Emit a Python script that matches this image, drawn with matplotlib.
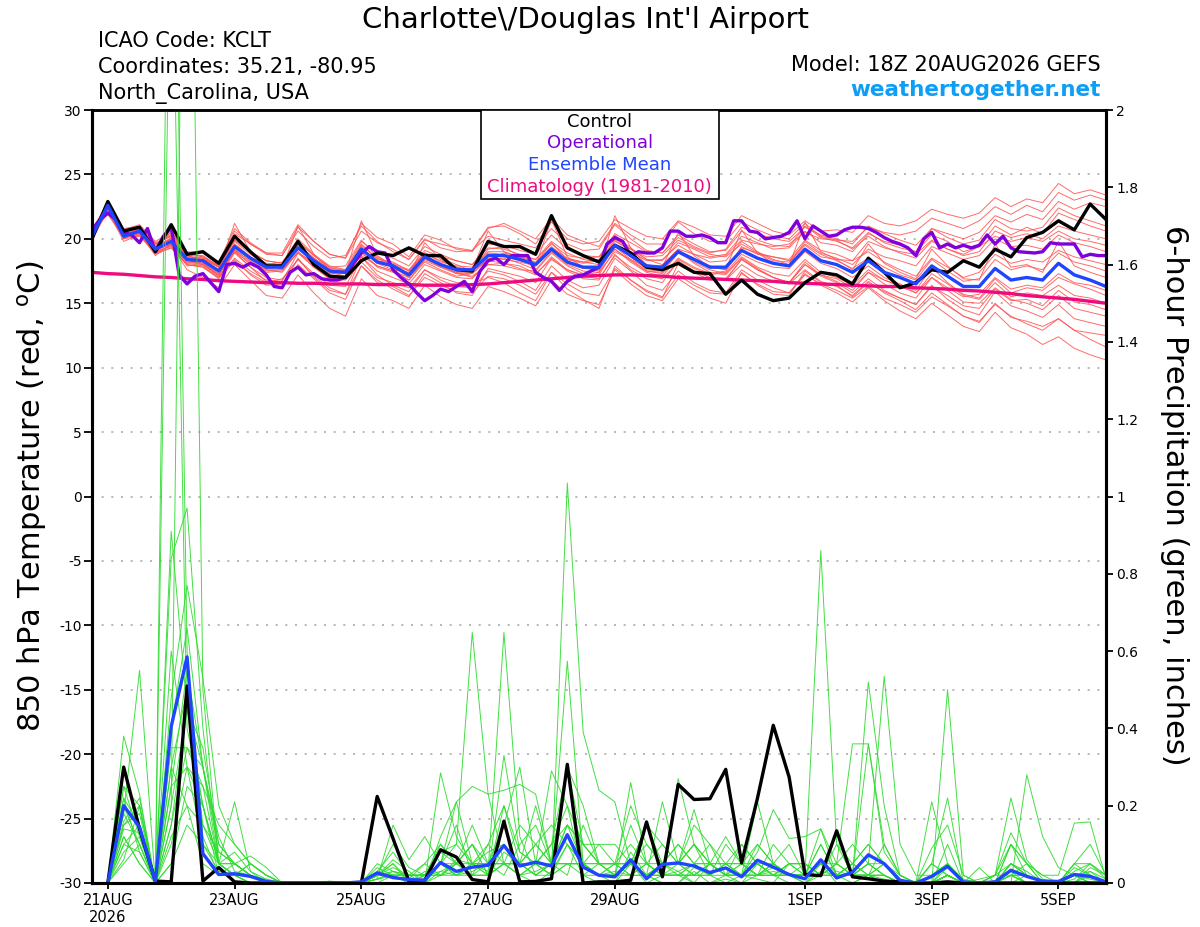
import matplotlib.pyplot as plt
import numpy as np
import pandas as pd
from matplotlib.patches import Rectangle

plt.rcParams['axes.unicode_minus'] = False

# 6-hourly steps, 18Z 20AUG2026 .. 18Z 05SEP2026 (operational run is 3-hourly)
times = pd.date_range('2026-08-20 18:00', periods=65, freq='6h')
times_3h = pd.date_range('2026-08-20 18:00', periods=129, freq='3h')

# 850 hPa temperature (C)
control_temp = [20.0,
                22.9, 20.6, 20.9, 19.0, 21.1, 18.8, 19.0, 18.1, 20.2, 19.0, 17.9, 17.9,
                19.8, 18.0, 17.1, 17.0, 18.3, 18.9, 18.7, 19.3, 18.7, 18.7, 17.6, 17.5,
                19.8, 19.4, 19.4, 18.8, 21.8, 19.3, 18.7, 18.2, 19.5, 18.9, 17.8, 17.6,
                18.1, 17.4, 17.3, 15.7, 16.8, 15.7, 15.2, 15.4, 16.6, 17.4, 17.2, 16.5,
                18.5, 17.4, 16.2, 16.6, 17.6, 17.4, 18.3, 17.8, 19.2, 18.6, 20.1, 20.5,
                21.4, 20.7, 22.7, 21.5]
mean_temp = [20.2,
             22.6, 20.2, 20.6, 19.2, 19.8, 18.4, 18.3, 17.5, 19.4, 18.5, 17.8, 17.8,
             19.3, 18.3, 17.5, 17.4, 19.2, 18.2, 17.9, 17.2, 18.6, 18.0, 17.6, 17.6,
             18.7, 18.7, 18.4, 18.0, 19.2, 18.2, 17.8, 17.8, 19.5, 18.7, 17.9, 17.8,
             19.0, 18.4, 17.8, 17.8, 19.1, 18.5, 18.1, 17.9, 19.2, 18.3, 18.0, 17.4,
             18.3, 17.4, 17.0, 16.5, 17.9, 17.1, 16.3, 16.3, 17.7, 16.8, 17.0, 16.8,
             18.1, 17.2, 16.8, 16.3]
clim_temp = [17.4,
             17.3, 17.25, 17.15, 17.05, 17.0, 16.9, 16.85, 16.75, 16.7, 16.65, 16.6, 16.6,
             16.55, 16.55, 16.5, 16.5, 16.5, 16.45, 16.45, 16.45, 16.4, 16.4, 16.4, 16.45,
             16.5, 16.6, 16.7, 16.8, 16.9, 17.0, 17.1, 17.15, 17.2, 17.2, 17.15, 17.1,
             17.0, 16.95, 16.9, 16.85, 16.8, 16.75, 16.7, 16.6, 16.55, 16.5, 16.45, 16.4,
             16.35, 16.3, 16.3, 16.2, 16.15, 16.1, 16.0, 15.95, 15.85, 15.75, 15.6, 15.5,
             15.4, 15.3, 15.15, 15.0]
operational_temp = [20.7, 21.5, 22.0, 21.5, 20.5, 20.3, 19.7, 20.8, 19.0, 20.2, 20.9,
                    17.2, 16.5, 17.1, 17.3, 16.6, 15.9, 18.0, 18.1, 17.8, 18.1, 17.8,
                    17.2, 16.3, 16.2, 17.4, 17.8, 17.2, 17.3, 16.9, 16.8, 16.8, 17.0,
                    18.1, 18.9, 19.4, 19.0, 18.9, 17.6, 17.0, 16.5, 15.8, 15.2, 15.6,
                    16.1, 15.9, 16.3, 16.7, 15.9, 17.5, 18.3, 18.5, 18.0, 18.7, 18.7,
                    18.7, 17.4, 17.0, 16.7, 16.0, 16.7, 17.1, 17.2, 17.5, 17.8, 19.6,
                    20.1, 19.8, 18.7, 19.0, 18.9, 18.9, 19.3, 20.6, 20.6, 20.2, 20.2,
                    20.3, 20.1, 19.7, 19.7, 21.4, 21.4, 20.6, 20.5, 20.0, 20.1, 20.2,
                    20.5, 21.4, 20.0, 21.0, 20.6, 20.2, 20.3, 20.7, 20.9, 20.9, 20.8,
                    20.5, 20.1, 19.8, 19.6, 19.3, 18.7, 20.0, 20.5, 19.3, 19.6, 19.3,
                    19.5, 19.3, 19.5, 20.3, 19.6, 20.2, 19.3, 19.0, 18.95, 18.9, 19.0,
                    19.7, 19.6, 19.6, 19.6, 18.6, 18.8, 18.7, 18.7]

temp_members = [
    [20.4, 22.3, 20.5, 20.9, 19.5, 20.4, 18.9, 18.6, 17.9, 19.9, 19.0, 18.3, 18.1, 20.0, 18.8, 17.9, 17.6,
     19.8, 18.9, 18.5, 17.9, 19.4, 18.8, 18.3, 18.0, 19.6, 19.5, 19.1, 18.8, 20.3, 19.2, 18.7, 18.6,
     20.4, 19.7, 19.0, 18.9, 20.3, 19.6, 19.0, 19.1, 20.6, 19.9, 19.5, 19.4, 21.0, 20.1, 19.8, 19.3,
     20.5, 19.7, 19.3, 19.0, 20.8, 20.1, 19.6, 19.9, 21.5, 20.8, 20.6, 20.9, 22.4, 21.8, 21.4, 21.0],
    [20.0, 22.5, 20.0, 20.2, 18.9, 19.3, 18.0, 17.8, 17.0, 18.4, 17.2, 16.4, 16.5, 18.0, 16.9, 15.8, 15.3,
     17.9, 16.6, 16.3, 15.6, 17.0, 16.4, 15.9, 15.8, 17.1, 16.9, 16.4, 15.7, 17.4, 16.5, 15.8, 15.6,
     17.7, 16.8, 16.0, 15.5, 17.2, 16.4, 15.8, 15.7, 17.3, 16.5, 15.9, 15.8, 17.2, 16.5, 16.0, 15.4,
     16.3, 15.4, 14.9, 14.3, 15.5, 14.8, 14.0, 13.6, 14.9, 14.0, 13.4, 12.9, 13.8, 12.9, 12.2, 11.6],
    [20.5, 22.0, 20.8, 21.0, 19.7, 20.2, 18.7, 18.4, 17.8, 19.6, 18.6, 18.0, 18.2, 19.8, 18.7, 17.8, 17.9,
     19.9, 18.6, 18.0, 17.5, 18.9, 18.5, 18.0, 17.5, 19.2, 19.4, 18.6, 18.1, 19.7, 18.4, 18.2, 18.4,
     20.3, 19.3, 18.4, 18.0, 19.2, 18.1, 17.4, 17.2, 18.5, 17.7, 17.0, 16.6, 18.0, 17.2, 16.9, 16.2,
     17.4, 16.8, 16.4, 16.0, 17.8, 16.6, 15.7, 15.4, 16.9, 15.8, 16.2, 16.0, 17.0, 16.5, 16.1, 15.6],
    [20.1, 22.8, 20.3, 20.4, 18.7, 19.6, 17.9, 18.0, 17.2, 19.1, 18.0, 17.4, 17.5, 19.0, 17.8, 16.9, 17.0,
     19.0, 17.8, 17.4, 16.8, 18.2, 17.6, 17.1, 17.3, 18.4, 18.9, 18.6, 18.4, 19.8, 18.9, 18.4, 18.2,
     19.8, 19.2, 18.4, 18.3, 19.7, 19.2, 18.6, 18.8, 20.2, 19.7, 19.2, 19.3, 20.6, 19.7, 19.5, 19.0,
     20.4, 19.8, 19.5, 19.0, 20.3, 19.8, 19.0, 19.4, 21.0, 20.3, 20.9, 20.4, 22.0, 21.5, 21.0, 20.6],
    [20.3, 22.1, 20.6, 20.8, 19.4, 20.0, 18.6, 18.5, 17.8, 20.4, 19.6, 18.9, 18.7, 20.6, 19.4, 18.5, 18.7,
     21.0, 19.8, 19.0, 18.4, 20.0, 19.3, 19.0, 19.1, 20.9, 21.0, 20.4, 19.6, 21.3, 20.0, 19.6, 19.8,
     21.5, 20.8, 20.2, 20.0, 21.4, 20.9, 20.3, 20.2, 21.8, 21.2, 20.6, 20.3, 21.4, 20.6, 20.7, 20.5,
     21.8, 21.2, 21.0, 21.4, 22.3, 21.9, 21.6, 22.0, 23.2, 22.5, 23.1, 22.8, 24.3, 23.5, 23.8, 23.4],
    [20.6, 21.9, 20.1, 20.3, 19.0, 19.5, 17.6, 17.0, 16.2, 18.0, 16.8, 15.6, 15.4, 17.2, 15.8, 14.6, 14.0,
     16.9, 15.6, 15.2, 14.6, 16.4, 15.5, 14.9, 14.6, 16.3, 15.9, 15.4, 14.8, 16.8, 15.7, 15.2, 14.9,
     17.6, 16.5, 15.6, 15.2, 16.9, 16.1, 15.4, 15.0, 17.4, 16.4, 15.7, 15.6, 17.5, 16.6, 16.4, 15.5,
     16.6, 15.9, 15.4, 14.9, 16.3, 15.6, 14.8, 14.6, 16.1, 15.2, 15.3, 14.8, 16.0, 15.1, 14.9, 14.5],
    [20.2, 22.4, 20.4, 20.7, 19.3, 19.9, 18.5, 18.4, 17.6, 19.6, 18.6, 17.9, 17.7, 19.5, 18.5, 17.7, 17.6,
     19.4, 18.1, 17.6, 17.4, 18.9, 18.3, 17.8, 17.5, 18.4, 18.5, 18.1, 17.6, 19.0, 18.0, 17.5, 17.4,
     19.6, 18.6, 17.6, 17.5, 19.1, 18.5, 17.9, 17.6, 19.4, 18.8, 18.6, 18.3, 19.6, 18.8, 18.3, 17.7,
     18.5, 17.8, 17.2, 16.8, 18.4, 17.5, 16.7, 16.9, 18.4, 17.6, 17.9, 17.6, 18.9, 18.2, 17.9, 17.5],
    [20.4, 22.6, 20.1, 20.5, 19.1, 19.7, 18.3, 18.1, 17.2, 19.0, 17.8, 16.7, 16.2, 18.5, 17.0, 16.0, 15.7,
     18.6, 17.2, 16.4, 15.9, 17.6, 16.8, 16.3, 16.2, 17.5, 17.2, 16.7, 16.0, 17.9, 16.8, 16.2, 16.4,
     18.5, 17.5, 16.4, 16.0, 17.5, 16.6, 16.0, 15.8, 17.6, 16.8, 16.2, 15.8, 17.3, 16.4, 15.8, 15.1,
     16.2, 15.2, 14.4, 13.8, 15.0, 14.1, 13.2, 12.8, 14.3, 13.1, 12.6, 11.8, 12.4, 11.5, 11.0, 10.6],
    [20.1, 22.7, 20.2, 20.6, 19.3, 20.1, 18.6, 18.3, 17.6, 19.5, 18.4, 17.7, 17.9, 19.6, 18.5, 17.6, 17.5,
     19.6, 18.4, 18.2, 17.5, 18.9, 18.2, 17.9, 17.8, 19.0, 19.0, 18.6, 18.2, 19.4, 18.4, 18.1, 18.3,
     19.9, 19.0, 18.3, 18.4, 19.5, 18.8, 18.2, 18.3, 19.8, 19.0, 18.4, 18.0, 19.8, 18.9, 18.5, 18.0,
     19.2, 18.6, 18.3, 17.9, 19.4, 18.9, 18.4, 18.7, 20.0, 19.4, 19.5, 19.2, 20.3, 19.7, 19.4, 19.0],
    [19.9, 22.2, 19.8, 20.3, 19.0, 19.4, 18.2, 18.1, 17.3, 19.2, 18.2, 17.6, 17.4, 19.0, 18.0, 17.2, 17.1,
     18.9, 17.9, 17.5, 17.0, 18.3, 17.8, 17.3, 17.3, 18.5, 18.4, 18.2, 17.9, 19.1, 18.1, 17.7, 17.6,
     19.4, 18.4, 17.5, 17.3, 18.4, 17.7, 17.2, 17.4, 18.8, 18.2, 17.8, 17.7, 19.0, 18.1, 17.7, 17.0,
     17.9, 17.0, 16.5, 15.8, 17.0, 16.2, 15.5, 15.7, 17.0, 16.1, 16.4, 16.2, 17.3, 16.6, 16.4, 16.0],
    [20.6, 22.9, 20.7, 21.1, 19.8, 20.5, 19.0, 18.9, 18.2, 20.8, 19.7, 18.9, 18.9, 21.1, 19.8, 18.8, 18.5,
     20.6, 19.7, 19.2, 18.4, 19.9, 19.6, 19.3, 19.1, 20.2, 19.9, 19.6, 19.3, 20.8, 19.6, 19.1, 19.2,
     21.1, 20.0, 19.1, 18.9, 20.1, 19.4, 18.9, 19.2, 20.9, 20.4, 20.0, 19.8, 20.9, 20.3, 20.0, 19.6,
     21.0, 20.4, 19.9, 19.5, 20.8, 20.4, 20.0, 20.5, 21.8, 21.3, 21.9, 21.5, 22.9, 22.3, 22.8, 22.5],
    [20.3, 22.4, 20.0, 20.5, 18.9, 19.5, 18.1, 17.9, 17.0, 18.9, 17.8, 17.0, 16.8, 18.4, 17.3, 16.4, 16.3,
     18.6, 17.5, 17.0, 16.5, 18.0, 17.5, 17.0, 16.9, 18.3, 18.1, 17.7, 17.2, 18.6, 17.6, 17.1, 16.9,
     18.7, 17.8, 17.1, 16.9, 18.2, 17.4, 16.8, 16.9, 18.4, 17.6, 17.0, 16.6, 18.0, 17.1, 16.6, 15.8,
     16.9, 16.0, 15.4, 14.9, 16.4, 15.3, 14.5, 14.1, 15.9, 14.8, 14.4, 13.9, 14.9, 13.8, 13.5, 13.2],
    [20.0, 22.5, 20.3, 20.8, 19.4, 20.0, 18.8, 18.7, 17.9, 19.9, 19.0, 18.3, 18.1, 19.8, 18.7, 17.8, 17.5,
     19.3, 18.2, 17.8, 17.0, 18.5, 17.8, 17.4, 17.4, 18.9, 18.8, 18.4, 18.0, 19.3, 18.5, 18.2, 18.0,
     19.2, 18.2, 17.4, 17.1, 18.5, 17.8, 17.3, 17.5, 19.3, 18.9, 18.6, 18.4, 19.9, 19.1, 18.8, 18.3,
     19.0, 18.2, 17.6, 17.1, 18.5, 17.8, 17.0, 17.4, 18.8, 18.1, 18.4, 18.2, 19.1, 18.6, 18.3, 18.0],
    [20.4, 22.0, 20.2, 20.4, 19.1, 19.6, 18.2, 18.0, 17.2, 19.0, 18.1, 17.5, 17.6, 19.3, 18.1, 17.3, 17.3,
     19.5, 18.5, 18.0, 17.3, 18.8, 18.0, 17.3, 17.1, 18.0, 17.9, 17.6, 17.5, 18.9, 17.9, 17.3, 17.2,
     19.2, 18.3, 17.5, 17.4, 18.9, 18.2, 17.6, 17.3, 18.6, 17.8, 17.3, 17.1, 18.4, 17.4, 17.0, 16.4,
     17.6, 16.8, 16.3, 15.8, 17.3, 16.5, 15.6, 15.3, 16.6, 15.5, 15.8, 15.6, 16.4, 15.6, 15.4, 15.0],
    [20.7, 22.6, 20.6, 20.9, 19.6, 20.3, 18.9, 18.6, 17.9, 20.6, 19.6, 18.8, 18.7, 20.9, 19.8, 18.8, 18.5,
     21.2, 20.1, 19.6, 18.6, 20.3, 19.9, 19.2, 19.0, 20.8, 21.2, 20.6, 20.0, 21.6, 20.3, 19.8, 19.4,
     21.2, 20.3, 19.6, 19.6, 21.3, 20.4, 19.8, 19.8, 21.3, 20.7, 20.2, 20.0, 21.2, 20.2, 19.9, 19.2,
     20.2, 19.4, 18.9, 18.5, 19.8, 19.2, 18.7, 19.0, 20.6, 20.1, 20.4, 20.0, 21.0, 20.6, 20.3, 20.0],
    [20.2, 22.3, 20.4, 20.5, 19.0, 19.8, 18.4, 18.0, 17.1, 18.5, 17.5, 16.8, 16.7, 18.9, 17.8, 16.9, 16.8,
     18.2, 17.0, 16.6, 16.2, 17.6, 17.0, 16.6, 16.5, 17.0, 16.6, 15.8, 15.2, 17.4, 16.1, 15.3, 14.6,
     17.9, 16.8, 15.9, 15.4, 18.1, 17.5, 17.0, 16.8, 18.0, 17.2, 16.7, 16.5, 17.6, 16.7, 16.3, 15.6,
     16.7, 15.8, 15.2, 14.5, 15.8, 14.9, 14.0, 13.5, 15.0, 13.9, 13.6, 13.2, 13.8, 12.9, 12.7, 12.5],
    [20.5, 22.2, 20.3, 20.6, 19.2, 20.6, 18.7, 18.3, 17.6, 21.2, 19.0, 18.0, 17.7, 21.0, 18.8, 17.6, 17.3,
     21.4, 18.7, 17.9, 17.1, 19.7, 18.4, 17.8, 17.6, 20.6, 19.0, 18.5, 17.9, 21.5, 18.6, 17.8, 17.5,
     21.8, 19.3, 18.0, 17.8, 20.5, 18.7, 17.8, 17.6, 20.7, 18.9, 18.1, 17.9, 21.3, 19.0, 18.4, 17.6,
     19.6, 18.1, 17.4, 16.9, 19.2, 17.9, 16.9, 16.8, 19.6, 17.8, 18.0, 17.4, 19.8, 17.9, 17.4, 17.0],
    [20.1, 22.7, 20.5, 20.7, 19.3, 19.5, 18.3, 18.2, 17.5, 19.1, 18.3, 17.6, 17.6, 18.9, 18.2, 17.4, 17.1,
     18.7, 17.9, 17.5, 16.8, 18.4, 17.9, 17.4, 17.0, 18.0, 18.1, 17.9, 17.3, 18.4, 17.6, 17.2, 17.4,
     19.0, 18.4, 17.8, 17.9, 19.2, 18.8, 18.5, 18.7, 19.9, 19.6, 19.4, 19.6, 20.5, 20.0, 19.9, 19.8,
     20.9, 20.5, 20.3, 20.6, 21.6, 21.2, 20.8, 21.4, 22.5, 21.9, 22.6, 22.1, 23.6, 23.0, 23.4, 23.0],
    [20.3, 22.1, 20.1, 20.4, 18.8, 19.3, 18.0, 17.8, 16.9, 18.3, 17.3, 16.6, 16.9, 18.4, 17.1, 16.2, 15.7,
     17.9, 16.8, 16.1, 15.5, 17.3, 16.6, 15.8, 15.6, 17.7, 17.4, 17.1, 16.6, 18.5, 17.5, 16.9, 16.8,
     18.8, 17.6, 16.9, 16.6, 18.3, 17.5, 17.0, 16.8, 18.4, 17.6, 17.0, 16.6, 18.2, 17.2, 16.7, 16.0,
     17.4, 16.5, 15.8, 15.4, 17.0, 16.0, 15.1, 15.0, 16.2, 15.3, 15.0, 14.5, 15.6, 14.6, 14.3, 14.0],
    [20.6, 22.8, 20.6, 21.0, 19.6, 20.2, 18.8, 18.5, 17.8, 19.8, 18.8, 18.1, 18.0, 19.4, 18.4, 17.5, 17.4,
     19.2, 18.3, 18.1, 17.6, 19.1, 18.6, 18.3, 18.0, 19.3, 19.2, 18.8, 18.4, 19.6, 18.7, 18.5, 18.6,
     20.0, 19.2, 18.6, 18.7, 19.9, 19.3, 18.8, 18.6, 19.6, 18.9, 18.3, 18.2, 19.5, 18.6, 18.4, 18.3,
     19.8, 19.3, 19.0, 18.8, 19.9, 19.2, 18.8, 19.4, 20.2, 19.8, 20.1, 19.8, 20.6, 20.0, 19.8, 19.5],
]

# 6-hour precipitation (inches), from 00Z 21AUG
control_precip = [0, 0.30, 0.14, 0.005, 0.003, 0.51, 0.005, 0.04, 0.003, 0, 0, 0, 0, 0, 0, 0,
                  0, 0.224, 0.115, 0.005, 0.007, 0.086, 0.067, 0.009, 0.003, 0.16, 0.003, 0.004,
                  0.011, 0.307, 0, 0.003, 0.003, 0.007, 0.158, 0.016, 0.255, 0.216, 0.218, 0.294,
                  0.052, 0.219, 0.408, 0.274, 0.022, 0.019, 0.135, 0.016, 0.011, 0.005, 0.003, 0,
                  0, 0.003, 0, 0, 0, 0, 0, 0, 0, 0, 0, 0]
mean_precip = [0, 0.2, 0.145, 0.003, 0.405, 0.585, 0.076, 0.022, 0.024, 0.017, 0.004, 0,
               0, 0, 0, 0, 0.003, 0.026, 0.014, 0.009, 0.007, 0.053, 0.03, 0.041,
               0.046, 0.097, 0.044, 0.054, 0.044, 0.125, 0.041, 0.02, 0.016, 0.06, 0.011, 0.048,
               0.052, 0.044, 0.027, 0.039, 0.016, 0.059, 0.041, 0.022, 0.011, 0.06, 0.013, 0.028,
               0.073, 0.05, 0.007, 0, 0.017, 0.043, 0.003, 0, 0.003, 0.033, 0.017, 0.005,
               0.004, 0.022, 0.017, 0.003]

precip_members = [
    [0, 0.22, 0.15, 0, 3.2, 0.6, 0.12, 0.02, 0.05, 0.02, 0, 0, 0, 0, 0, 0,
     0, 0.03, 0.02, 0, 0.02, 0.08, 0.1, 0.648, 0.23, 0.05, 0.02, 0, 0.03, 0.1, 0.02, 0,
     0, 0.05, 0, 0.02, 0.03, 0, 0, 0.01, 0, 0.05, 0.02, 0, 0, 0.05, 0, 0,
     0.02, 0, 0, 0, 0, 0.02, 0, 0, 0, 0.03, 0, 0, 0, 0.02, 0.01, 0],
    [0, 0.1, 0.08, 0, 2.6, 0.4, 0.2, 0.05, 0.02, 0, 0, 0, 0, 0, 0, 0,
     0, 0.02, 0.05, 0.01, 0, 0.03, 0.02, 0.05, 0.03, 0.648, 0.12, 0.02, 0.05, 0.3, 0.05, 0.02,
     0, 0.08, 0.02, 0, 0, 0.04, 0.02, 0, 0.02, 0.01, 0, 0.05, 0.02, 0.86, 0.1, 0.02,
     0.02, 0, 0, 0, 0, 0.04, 0, 0, 0, 0, 0.02, 0, 0, 0, 0.03, 0],
    [0, 0.15, 0.2, 0, 0.2, 3.5, 0.5, 0.05, 0.08, 0.03, 0, 0, 0, 0, 0, 0,
     0, 0.05, 0.03, 0.02, 0, 0.12, 0.21, 0.05, 0.02, 0.08, 0.05, 0.05, 0.02, 1.035, 0.39, 0.24,
     0.21, 0.05, 0.02, 0, 0, 0.03, 0, 0.02, 0.05, 0.02, 0.04, 0.02, 0, 0.03, 0.02, 0,
     0.02, 0.01, 0, 0, 0, 0, 0, 0, 0, 0.05, 0.03, 0, 0, 0, 0, 0],
    [0, 0.18, 0.55, 0, 0.91, 0.45, 0.3, 0.12, 0.03, 0.02, 0.01, 0, 0, 0, 0, 0,
     0, 0.01, 0.02, 0, 0.03, 0.02, 0.05, 0.1, 0.02, 0.33, 0.08, 0.05, 0.29, 0.2, 0.02, 0.05,
     0.02, 0.26, 0.05, 0.02, 0.02, 0, 0.05, 0.02, 0.02, 0.08, 0.19, 0.115, 0.12, 0.14, 0.05, 0.36,
     0.36, 0.08, 0.02, 0, 0.02, 0.05, 0, 0, 0.02, 0.22, 0.06, 0.01, 0, 0.04, 0.02, 0],
    [0, 0.38, 0.23, 0, 0.84, 0.97, 0.4, 0.05, 0.05, 0.07, 0.04, 0, 0, 0, 0, 0,
     0, 0.02, 0.06, 0.03, 0, 0.285, 0.12, 0.05, 0.02, 0.05, 0.02, 0.03, 0.05, 0.574, 0.05, 0.02,
     0.03, 0.02, 0.05, 0.02, 0.27, 0.1, 0.05, 0.02, 0, 0.02, 0.03, 0.02, 0.02, 0.05, 0.03, 0.02,
     0.52, 0.2, 0.02, 0, 0, 0.5, 0.02, 0, 0, 0.05, 0.02, 0, 0, 0.02, 0.03, 0.01],
    [0, 0.25, 0.12, 0, 0.48, 0.77, 0.53, 0.2, 0.1, 0.05, 0.02, 0, 0, 0, 0, 0,
     0, 0.01, 0.15, 0.06, 0.12, 0.05, 0.21, 0.25, 0.23, 0.24, 0.255, 0.23, 0.05, 0.12, 0.05, 0.02,
     0.05, 0.02, 0.02, 0.21, 0.05, 0.15, 0.1, 0.05, 0.02, 0.21, 0.05, 0.02, 0, 0.02, 0.05, 0.02,
     0.02, 0.05, 0, 0, 0.09, 0.15, 0.02, 0, 0, 0, 0.28, 0.12, 0.04, 0.02, 0, 0],
    [0, 0.12, 0.05, 0, 0.4, 0.66, 0.3, 0.05, 0.02, 0.02, 0, 0, 0, 0, 0, 0,
     0, 0.02, 0.02, 0.02, 0.05, 0.02, 0.03, 0.02, 0.1, 0.2, 0.08, 0.05, 0.1, 0.3, 0.2, 0.05,
     0.05, 0.1, 0.05, 0.05, 0.05, 0.19, 0.05, 0.02, 0.1, 0.05, 0.02, 0.05, 0.02, 0.05, 0.02, 0.02,
     0.05, 0.535, 0.1, 0.02, 0.02, 0.05, 0.01, 0, 0.02, 0.1, 0.05, 0.02, 0.02, 0.155, 0.158, 0.01],
    [0, 0.08, 0.12, 0, 0.3, 0.5, 0.15, 0.05, 0.21, 0.03, 0.01, 0, 0, 0, 0, 0,
     0, 0.02, 0.1, 0.04, 0.02, 0.05, 0.02, 0.03, 0.05, 0.1, 0.05, 0.2, 0.05, 0.15, 0.05, 0.05,
     0.02, 0.05, 0.1, 0.05, 0.03, 0.05, 0.02, 0.1, 0.05, 0.02, 0.05, 0.02, 0.02, 0.05, 0.02, 0.02,
     0.36, 0.1, 0.02, 0, 0.21, 0.05, 0, 0.01, 0.02, 0.13, 0.05, 0, 0, 0.01, 0.05, 0.02],
    [0, 0.05, 0.1, 0, 0.2, 0.45, 0.2, 0.02, 0.02, 0, 0, 0, 0, 0, 0.005, 0,
     0, 0, 0.02, 0, 0.02, 0.08, 0.05, 0.1, 0.05, 0.15, 0.3, 0.05, 0.1, 0.2, 0.1, 0.05,
     0.05, 0.05, 0.02, 0.05, 0.05, 0.1, 0.05, 0.02, 0.02, 0.1, 0.05, 0.02, 0.02, 0.14, 0.02, 0.05,
     0.1, 0.05, 0.02, 0, 0, 0.02, 0, 0.04, 0, 0.05, 0.02, 0, 0, 0.05, 0.02, 0],
    [0, 0.2, 0.1, 0, 0.15, 0.35, 0.3, 0.1, 0.05, 0.02, 0, 0, 0, 0, 0, 0,
     0, 0.01, 0.03, 0.01, 0.05, 0.1, 0.05, 0.15, 0.05, 0.02, 0.1, 0.15, 0.05, 0.02, 0.15, 0.05,
     0.05, 0.2, 0.1, 0.05, 0.1, 0.05, 0.05, 0.12, 0.05, 0.05, 0.02, 0.02, 0.02, 0.1, 0.02, 0.02,
     0.05, 0.02, 0, 0, 0.05, 0.02, 0, 0, 0, 0.02, 0.05, 0.02, 0, 0, 0, 0],
    [0, 0.15, 0.18, 0, 0.1, 0.3, 0.1, 0.03, 0.02, 0.05, 0.02, 0, 0, 0, 0, 0,
     0, 0.04, 0.02, 0.02, 0.02, 0.02, 0.06, 0.05, 0.08, 0.1, 0.05, 0.1, 0.15, 0.1, 0.05, 0.02,
     0.02, 0.15, 0.05, 0.02, 0.05, 0.1, 0.05, 0.05, 0.02, 0.02, 0.1, 0.05, 0.05, 0.02, 0.05, 0.1,
     0.05, 0.02, 0, 0, 0.05, 0.22, 0, 0, 0, 0.1, 0.05, 0, 0, 0.05, 0.05, 0.02],
    [0, 0.1, 0.15, 0, 0.05, 0.25, 0.2, 0.05, 0.02, 0.02, 0, 0, 0, 0, 0, 0,
     0, 0.03, 0.08, 0.02, 0.02, 0.1, 0.05, 0.05, 0.1, 0.05, 0.15, 0.1, 0.05, 0.15, 0.1, 0.1,
     0.1, 0.05, 0.15, 0.1, 0.05, 0.1, 0.02, 0.05, 0.05, 0.02, 0.05, 0.02, 0.05, 0.02, 0.1, 0.05,
     0.02, 0.1, 0.02, 0, 0.02, 0.05, 0, 0, 0, 0.02, 0.02, 0, 0, 0.03, 0.05, 0.01],
    [0, 0.22, 0.08, 0, 0.3, 0.2, 0.15, 0.08, 0.05, 0.02, 0, 0, 0, 0, 0, 0,
     0, 0.02, 0.05, 0, 0, 0.05, 0.1, 0.05, 0.05, 0.05, 0.05, 0.1, 0.05, 0.05, 0.05, 0.1,
     0.05, 0.05, 0.15, 0.05, 0.1, 0.05, 0.05, 0.05, 0.1, 0.05, 0.05, 0.02, 0.02, 0.1, 0.02, 0.02,
     0.05, 0.05, 0, 0, 0, 0.1, 0, 0, 0, 0.02, 0, 0, 0, 0, 0.04, 0.02],
    [0, 0.12, 0.05, 0, 0.25, 0.3, 0.25, 0.05, 0.02, 0.05, 0.02, 0, 0, 0, 0, 0,
     0, 0.02, 0.02, 0.02, 0.02, 0.05, 0.02, 0.02, 0.05, 0.1, 0.02, 0.05, 0.02, 0.05, 0.05, 0.02,
     0.02, 0.05, 0.02, 0.05, 0.02, 0.05, 0.1, 0.02, 0.05, 0.1, 0.05, 0.02, 0.02, 0.05, 0.02, 0.02,
     0.02, 0.05, 0, 0, 0.05, 0.02, 0, 0, 0.02, 0.05, 0.02, 0, 0, 0.02, 0.02, 0],
    [0, 0.18, 0.1, 0, 0.15, 0.45, 0.35, 0.1, 0.05, 0.02, 0, 0, 0, 0, 0, 0,
     0, 0.01, 0.02, 0.02, 0.02, 0.03, 0.05, 0.1, 0.02, 0.2, 0.05, 0.02, 0.05, 0.3, 0.1, 0.05,
     0.05, 0.05, 0.05, 0.1, 0.05, 0.02, 0.05, 0.02, 0.02, 0.05, 0.02, 0.05, 0.05, 0.02, 0.02, 0.05,
     0.1, 0.05, 0, 0, 0, 0.05, 0, 0, 0, 0.05, 0.02, 0, 0, 0.05, 0.1, 0.02],
    [0, 0.16, 0.22, 0, 0.12, 0.2, 0.05, 0.02, 0.02, 0, 0, 0, 0, 0, 0, 0,
     0, 0.02, 0.04, 0.02, 0.02, 0.05, 0.15, 0.02, 0.02, 0.05, 0.05, 0.02, 0.02, 0.1, 0.05, 0.02,
     0.02, 0.05, 0.02, 0.02, 0.02, 0.02, 0.05, 0.02, 0.02, 0.02, 0.05, 0.1, 0.02, 0.05, 0.05, 0.02,
     0.05, 0.02, 0, 0, 0, 0.02, 0, 0, 0.02, 0.02, 0.02, 0, 0, 0.02, 0.02, 0],
    [0, 0.25, 0.2, 0, 0.35, 0.35, 0.25, 0.15, 0.1, 0.05, 0.02, 0, 0, 0, 0, 0,
     0, 0.02, 0.03, 0.02, 0.02, 0.02, 0.02, 0.05, 0.05, 0.05, 0.02, 0.05, 0.1, 0.15, 0.1, 0.05,
     0.05, 0.02, 0.02, 0.05, 0.05, 0.02, 0.02, 0.05, 0.05, 0.02, 0.02, 0.05, 0.05, 0.02, 0.02, 0.05,
     0.02, 0, 0, 0, 0, 0.02, 0, 0, 0, 0.1, 0.02, 0, 0, 0.02, 0, 0],
    [0, 0.3, 0.15, 0, 0.05, 0.15, 0.1, 0.05, 0.02, 0, 0, 0, 0, 0, 0, 0,
     0, 0.02, 0.02, 0, 0, 0.02, 0.05, 0.02, 0.02, 0.1, 0.05, 0.05, 0.05, 0.05, 0.05, 0.02,
     0.02, 0.02, 0.05, 0.02, 0.02, 0.02, 0.05, 0.02, 0.02, 0.02, 0.02, 0.02, 0.02, 0.02, 0.05, 0.02,
     0.02, 0.02, 0, 0, 0, 0.02, 0, 0, 0, 0.02, 0, 0, 0, 0, 0.02, 0],
    [0, 0.06, 0.2, 0, 0.6, 0.3, 0.2, 0.05, 0.05, 0.02, 0, 0, 0, 0, 0, 0,
     0, 0.02, 0.02, 0, 0.02, 0.05, 0.05, 0.02, 0.02, 0.05, 0.05, 0.02, 0.05, 0.05, 0.02, 0.02,
     0.05, 0.05, 0.02, 0.02, 0.02, 0.02, 0.02, 0.05, 0.02, 0.05, 0.02, 0.02, 0.02, 0.05, 0.02, 0.02,
     0.02, 0.02, 0, 0, 0, 0.02, 0, 0, 0, 0.02, 0, 0, 0, 0.02, 0, 0],
    [0, 0.14, 0.13, 0, 0.25, 0.55, 0.3, 0.08, 0.05, 0.02, 0, 0, 0, 0, 0, 0,
     0, 0.02, 0.02, 0.02, 0.02, 0.05, 0.02, 0.05, 0.05, 0.05, 0.05, 0.05, 0.02, 0.05, 0.05, 0.05,
     0.02, 0.05, 0.02, 0.02, 0.02, 0.05, 0.02, 0.02, 0.02, 0.02, 0.02, 0.02, 0.02, 0.02, 0.02, 0.02,
     0.02, 0.02, 0, 0, 0, 0.02, 0, 0, 0, 0.02, 0, 0, 0, 0.02, 0.02, 0],
]

tick_days = ['2026-08-21', '2026-08-23', '2026-08-25', '2026-08-27', '2026-08-29',
             '2026-09-01', '2026-09-03', '2026-09-05']
tick_labels = ['21AUG\n2026', '23AUG', '25AUG', '27AUG', '29AUG', '1SEP', '3SEP', '5SEP']

RED = '#ff5252'
GREEN = '#2edb2e'
PURPLE = '#8000dc'
BLUE = '#2045ff'
PINK = '#ee0a7f'

fig = plt.figure(figsize=(12, 9.27), dpi=100)
ax = fig.add_axes([92 / 1200, 1 - 883 / 927, 1014 / 1200, 773 / 927])
ax2 = ax.twinx()

# temperature (left axis)
for m in temp_members:
    ax.plot(times, m, color=RED, lw=0.7, alpha=0.85)
ax.plot(times, clim_temp, color=PINK, lw=2.4)
ax.plot(times_3h, operational_temp, color=PURPLE, lw=2.4)
ax.plot(times, control_temp, color='black', lw=2.4)
ax.plot(times, mean_temp, color=BLUE, lw=2.4)

# precipitation (right axis)
for m in precip_members:
    ax2.plot(times[1:], m, color=GREEN, lw=0.7, alpha=0.9)
ax2.plot(times[1:], control_precip, color='black', lw=2.4)
ax2.plot(times[1:], mean_precip, color=BLUE, lw=2.4)

ax.set_xlim(times[0], times[-1])
ax.set_ylim(-30, 30)
ax.set_yticks(range(-30, 31, 5))
ax2.set_ylim(0, 2)
pticks = np.round(np.arange(0, 2.01, 0.2), 1)
ax2.set_yticks(pticks)
ax2.set_yticklabels([f'{v:g}' for v in pticks])
ax.set_xticks(pd.to_datetime(tick_days))
ax.set_xticklabels(tick_labels)

ax.grid(axis='y', color='#aaaaaa', linestyle=(0, (1.2, 4.6)), lw=1.2)
ax.tick_params(axis='y', direction='out', length=6, width=1.3, labelsize=10, pad=1.5)
ax.tick_params(axis='x', direction='out', length=4, width=1.3, labelsize=10.5, pad=3)
ax2.tick_params(axis='y', direction='out', length=5, width=1.3, labelsize=10, pad=2.5)
for a in (ax, ax2):
    for s in a.spines.values():
        s.set_linewidth(2.2)
    a.spines['top'].set_linewidth(1.8)

# legend box
ax2.add_patch(Rectangle((0.3833, 0.8849), 0.2353, 0.1151, transform=ax2.transAxes,
                        facecolor='white', edgecolor='black', lw=1.2, zorder=10))
legend_items = [('Control', 'black', 0.9784), ('Operational', PURPLE, 0.9505),
                ('Ensemble Mean', BLUE, 0.9224), ('Climatology (1981-2010)', PINK, 0.8939)]
for txt, col, yy in legend_items:
    ax2.text(0.5007, yy, txt, color=col, fontsize=13, ha='center', va='baseline',
             transform=ax2.transAxes, zorder=11)

# header text
fig.text(0.4883, 1 - 28 / 927, "Charlotte\\/Douglas Int'l Airport", fontsize=21,
         ha='center', va='baseline')
fig.text(98 / 1200, 1 - 47 / 927, 'ICAO Code: KCLT', fontsize=15, va='baseline')
fig.text(98 / 1200, 1 - 73 / 927, 'Coordinates: 35.21, -80.95', fontsize=15, va='baseline')
fig.text(98 / 1200, 1 - 99 / 927, 'North_Carolina, USA', fontsize=15, va='baseline')
fig.text(1101 / 1200, 1 - 71 / 927, 'Model: 18Z 20AUG2026 GEFS', fontsize=15,
         ha='right', va='baseline')
fig.text(1101 / 1200, 1 - 96 / 927, 'weathertogether.net', fontsize=15.5, fontweight='bold',
         color='#0d9ef5', ha='right', va='baseline')

fig.text(32 / 1200, 1 - 496 / 927, r'850 hPa Temperature (red, $^{\mathrm{o}}$C)', fontsize=22,
         rotation=90, ha='center', va='center')
fig.text(1175 / 1200, 1 - 495 / 927, '6-hour Precipitation (green, inches)', fontsize=22,
         rotation=-90, ha='center', va='center')

fig.savefig('out.png', dpi=100)
